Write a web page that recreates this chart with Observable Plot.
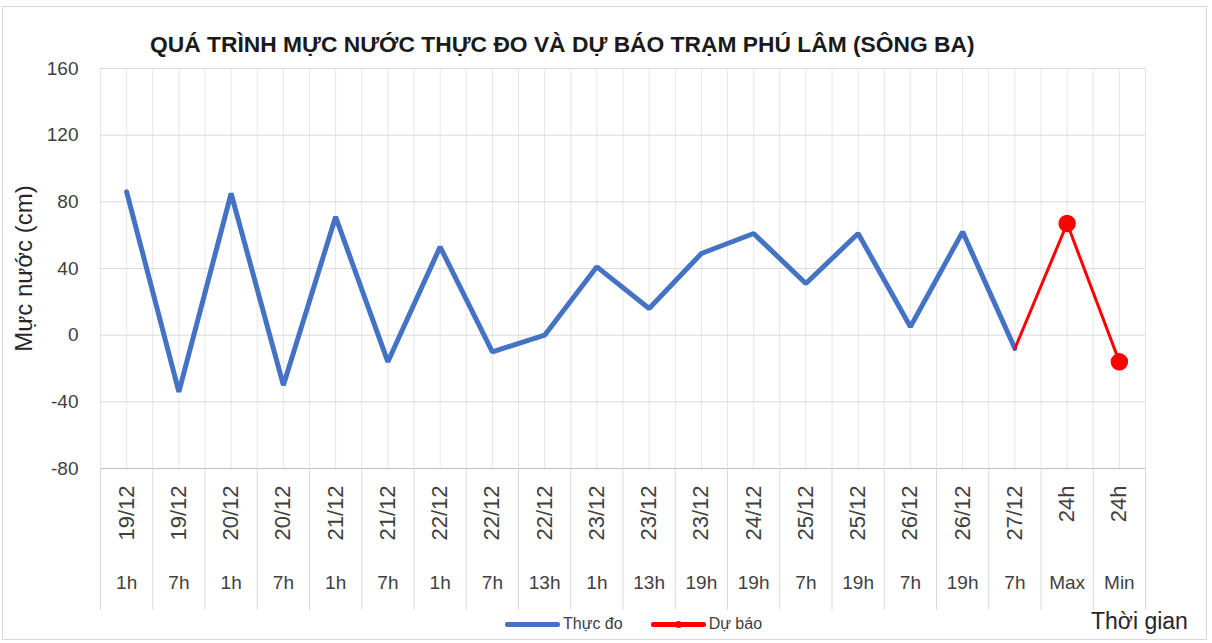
<!DOCTYPE html>
<html><head><meta charset="utf-8">
<script src="https://cdn.jsdelivr.net/npm/d3@7"></script>
<script src="https://cdn.jsdelivr.net/npm/@observablehq/plot@0.6"></script>
<style>
body{margin:0;background:#fff;font-family:"Liberation Sans",Arial,sans-serif;}
#wrap{position:relative;width:1212px;height:643px;overflow:hidden;background:#fff;}
#frame{position:absolute;left:2px;top:6px;width:1205px;height:634px;border:1px solid #d9d9d9;box-sizing:border-box;}
#title{position:absolute;left:150px;top:31px;font-weight:bold;font-size:22.8px;color:#1a1a1a;white-space:nowrap;}
#chart{position:absolute;left:0;top:58px;}
#legend{position:absolute;top:615px;left:505px;display:flex;align-items:center;font-size:16px;color:#404040;white-space:nowrap;}
.sw{position:relative;width:55px;height:5px;margin-right:3px;border-radius:2px;}
.sw .dot{position:absolute;left:24px;top:-1px;width:7px;height:7px;border-radius:50%;background:#ff0000;}
#xlabel{position:absolute;left:1091px;top:608px;font-size:23px;color:#262626;white-space:nowrap;}
</style>
</head><body>
<div id="wrap">
  <div id="frame"></div>
  <div id="title">QUÁ TRÌNH MỰC NƯỚC THỰC ĐO VÀ DỰ BÁO TRẠM PHÚ LÂM (SÔNG BA)</div>
  <div id="chart"></div>
  <div id="legend">
    <div class="sw" style="background:#4472c4"></div><span style="margin-right:28px">Thực đo</span>
    <div class="sw" style="background:#ff0000"><div class="dot"></div></div><span>Dự báo</span>
  </div>
  <div id="xlabel">Thời gian</div>
</div>
<script>
const dates = ["19/12","19/12","20/12","20/12","21/12","21/12","22/12","22/12","22/12","23/12","23/12","23/12","24/12","25/12","25/12","26/12","26/12","27/12","24h","24h"];
const hours = ["1h","7h","1h","7h","1h","7h","1h","7h","13h","1h","13h","19h","19h","7h","19h","7h","19h","7h","Max","Min"];
const observed = [86,-34,85,-30,71,-16,53,-10,0,41,16,49,61,31,61,5,62,-8];
const forecastLabels = ["27/12 7h","Max","Min"];
const forecast = [-8,67,-16];
const forecastStart = 17;
const yTicks = [-80,-40,0,40,80,120,160];

const n = dates.length;
const obsData = observed.map((v,i)=>({i, v}));
const fcData = forecast.map((v,k)=>({i: forecastStart + k, v, label: forecastLabels[k]}));
const fcDots = fcData.slice(1);
const halfSteps = d3.range(0, 2*n+1).map(k => k/2 - 0.5);
const bounds = d3.range(0, n+1).map(k => k - 0.5);
const centers = d3.range(0, n);

const chart = Plot.plot({
  width: 1212,
  height: 560,
  marginTop: 10,
  marginBottom: 150,
  marginLeft: 100,
  marginRight: 67,
  style: {fontFamily: '"Liberation Sans", Arial, sans-serif', color: "#404040", background: "transparent"},
  x: {type: "linear", domain: [-0.5, n - 0.5]},
  y: {domain: [-80, 160]},
  marks: [
    Plot.ruleX(halfSteps, {stroke: "#e6e6e6", strokeWidth: 1}),
    Plot.ruleY(yTicks, {stroke: "#d9d9d9", strokeWidth: 1}),
    Plot.ruleY([-80], {stroke: "#bfbfbf", strokeWidth: 1}),
    Plot.axisY(yTicks, {tickSize: 0, tickPadding: 22, fontSize: 19, label: null, tickFormat: d => String(d)}),
    Plot.axisX(bounds, {tickSize: 142, stroke: "#d9d9d9", tickFormat: () => "", label: null}),
    Plot.axisX(centers, {tickSize: 0, tickPadding: 17, tickRotate: -90, fontSize: 22, tickFormat: i => dates[i], label: null}),
    Plot.axisX(centers, {tickSize: 0, tickPadding: 107, fontSize: 19, tickFormat: i => hours[i], label: null}),
    Plot.text(["Mực nước (cm)"], {frameAnchor: "left", rotate: -90, textAnchor: "middle", dx: -76, fontSize: 24, fill: "#262626"}),
    Plot.line(obsData, {x: "i", y: "v", stroke: "#4472c4", strokeWidth: 5, strokeLinejoin: "miter"}),
    Plot.line(fcData, {x: "i", y: "v", stroke: "#ff0000", strokeWidth: 3}),
    Plot.dot(fcDots, {x: "i", y: "v", r: 8, fill: "#ff0000", stroke: "#ff0000"})
  ]
});
document.getElementById("chart").appendChild(chart);
</script>
</body></html>
